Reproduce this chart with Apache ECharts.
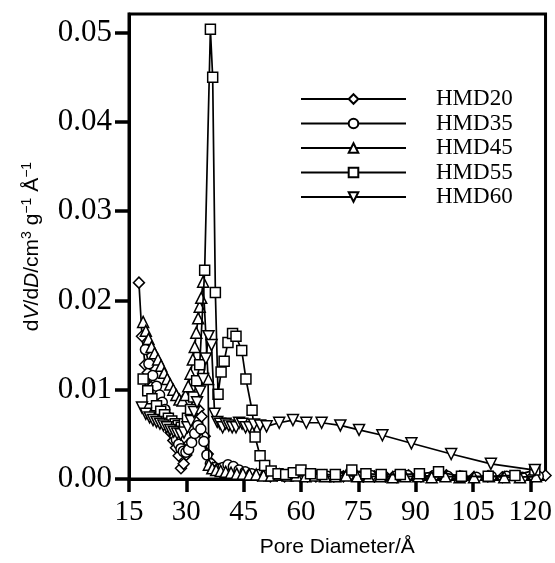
<!DOCTYPE html>
<html><head><meta charset="utf-8">
<script src="https://cdn.jsdelivr.net/npm/echarts@6/dist/echarts.min.js"></script>
<style>html,body{margin:0;padding:0;background:#fff}#c{width:555px;height:563px}</style>
</head><body><div id="c"></div>
<script>
const xTicks = [15, 30, 45, 60, 75, 90, 105, 120];
const yTicks = [0, 0.01, 0.02, 0.03, 0.04, 0.05];
const seriesNames = ['HMD20', 'HMD35', 'HMD45', 'HMD55', 'HMD60'];

const hmd20D = [17.6, 18.4, 19.2, 19.9, 20.8, 21.8, 22.7, 23.6, 24.4, 25.2, 25.9, 26.6, 27.3, 28.0, 28.6, 29.3, 30.0, 30.8, 31.6, 32.4, 33.2, 34.0, 34.8, 35.6, 36.5, 37.5, 38.6, 39.8, 41.1, 42.5, 44.0, 45.5, 47.0, 48.6, 50.3, 52.0, 53.8, 55.7, 57.6, 59.6, 61.7, 63.9, 66.2, 68.6, 71.1, 73.7, 76.4, 79.2, 82.1, 85.1, 88.2, 91.4, 94.7, 98.1, 101.6, 105.2, 108.9, 112.7, 116.6, 120.6, 124.0];
const hmd20V = [0.0220, 0.0160, 0.0128, 0.0119, 0.0103, 0.0089, 0.0080, 0.0072, 0.0066, 0.0061, 0.0052, 0.0043, 0.0035, 0.0026, 0.0012, 0.0017, 0.0027, 0.0040, 0.0055, 0.0068, 0.0078, 0.0070, 0.0048, 0.0028, 0.0018, 0.0013, 0.0011, 0.0010, 0.0009, 0.0007, 0.0006, 0.0005, 0.0005, 0.0004, 0.0004, 0.0003, 0.0004, 0.0003, 0.0004, 0.0005, 0.0003, 0.0003, 0.0004, 0.0003, 0.0003, 0.0004, 0.0003, 0.0003, 0.0003, 0.0002, 0.0004, 0.0003, 0.0003, 0.0004, 0.0003, 0.0002, 0.0003, 0.0002, 0.0003, 0.0003, 0.0004];

const hmd35D = [19.3, 20.2, 21.2, 22.2, 23.0, 23.7, 24.4, 25.0, 25.6, 26.2, 26.8, 27.4, 28.0, 28.6, 29.2, 29.9, 30.6, 31.4, 32.2, 33.0, 33.8, 34.6, 35.4, 36.3, 37.3, 38.4, 39.6, 40.9, 42.3, 43.8, 45.4, 47.1, 48.9, 50.8, 52.8, 54.9, 57.1, 59.4, 61.8, 64.3, 66.9, 69.6, 72.4, 75.3, 78.3, 81.4, 84.6, 87.9, 91.3, 94.8, 98.4, 102.1, 105.9, 109.8, 113.8, 117.9, 122.1];
const hmd35V = [0.0145, 0.0129, 0.0116, 0.0104, 0.0094, 0.0086, 0.0078, 0.0070, 0.0063, 0.0057, 0.0050, 0.0044, 0.0039, 0.0034, 0.0031, 0.0030, 0.0033, 0.0041, 0.0051, 0.0060, 0.0056, 0.0042, 0.0027, 0.0017, 0.0013, 0.0011, 0.0013, 0.0016, 0.0014, 0.0010, 0.0008, 0.0006, 0.0005, 0.0005, 0.0004, 0.0005, 0.0004, 0.0004, 0.0005, 0.0004, 0.0003, 0.0004, 0.0004, 0.0003, 0.0004, 0.0003, 0.0003, 0.0004, 0.0003, 0.0004, 0.0003, 0.0003, 0.0002, 0.0003, 0.0003, 0.0002, 0.0003];

const hmd45D = [18.7, 19.4, 20.1, 20.9, 21.7, 22.6, 23.4, 24.2, 25.0, 25.8, 26.6, 27.4, 28.2, 29.0, 29.8, 30.5, 31.1, 31.7, 32.2, 32.6, 33.1, 33.5, 33.9, 34.4, 35.7, 35.9, 36.8, 37.8, 39.0, 40.3, 41.7, 43.2, 44.8, 46.5, 48.3, 50.2, 52.2, 54.3, 56.5, 58.8, 61.2, 63.7, 66.3, 69.0, 71.8, 74.7, 77.7, 80.8, 84.0, 87.3, 90.7, 94.2, 97.8, 101.5, 105.3, 109.2, 113.2, 117.3, 121.5];
const hmd45V = [0.0176, 0.0166, 0.0157, 0.0148, 0.0141, 0.0134, 0.0127, 0.0119, 0.0112, 0.0106, 0.0100, 0.0094, 0.0089, 0.0088, 0.0094, 0.0104, 0.0118, 0.0134, 0.0148, 0.0164, 0.0180, 0.0193, 0.0203, 0.0221, 0.0112, 0.0016, 0.0012, 0.0010, 0.0009, 0.0008, 0.0007, 0.0006, 0.0006, 0.0005, 0.0005, 0.0004, 0.0004, 0.0005, 0.0004, 0.0004, 0.0003, 0.0004, 0.0003, 0.0003, 0.0004, 0.0003, 0.0003, 0.0003, 0.0002, 0.0003, 0.0003, 0.0002, 0.0003, 0.0002, 0.0002, 0.0003, 0.0002, 0.0002, 0.0003];

const hmd55D = [18.7, 19.9, 21.0, 22.2, 23.3, 24.3, 25.3, 26.2, 27.1, 27.9, 28.7, 29.5, 30.3, 31.1, 31.9, 32.7, 33.5, 34.8, 36.3, 36.9, 37.6, 38.3, 39.1, 39.9, 40.9, 42.1, 43.0, 44.5, 45.6, 47.2, 48.0, 49.3, 50.5, 52.2, 54.0, 56.0, 58.0, 60.0, 62.5, 65.5, 69.0, 73.3, 77.0, 81.0, 86.0, 91.0, 96.0, 102.0, 109.0, 116.0, 121.2];
const hmd55V = [0.0112, 0.0099, 0.0090, 0.0082, 0.0076, 0.0072, 0.0068, 0.0065, 0.0062, 0.0060, 0.0058, 0.0062, 0.0068, 0.0078, 0.0092, 0.0110, 0.0128, 0.0234, 0.0504, 0.0450, 0.0209, 0.0095, 0.0120, 0.0132, 0.0153, 0.0163, 0.0160, 0.0144, 0.0112, 0.0077, 0.0047, 0.0026, 0.0015, 0.0009, 0.0006, 0.0005, 0.0007, 0.0010, 0.0006, 0.0005, 0.0005, 0.0010, 0.0006, 0.0005, 0.0005, 0.0006, 0.0008, 0.0003, 0.0003, 0.0004, 0.0010];

const hmd60D = [18.4, 19.4, 20.4, 21.3, 22.2, 23.1, 24.0, 24.9, 25.8, 26.7, 27.6, 28.5, 29.4, 30.3, 31.2, 32.0, 32.8, 33.6, 34.4, 35.1, 35.8, 36.6, 37.4, 38.1, 38.8, 39.5, 40.3, 41.1, 42.0, 43.0, 43.8, 44.6, 45.5, 46.5, 47.7, 49.3, 51.0, 54.3, 57.9, 61.4, 65.4, 70.3, 75.2, 81.3, 88.9, 99.3, 109.7, 121.2];
const hmd60V = [0.0080, 0.0073, 0.0069, 0.0066, 0.0064, 0.0062, 0.0060, 0.0058, 0.0055, 0.0053, 0.0051, 0.0050, 0.0052, 0.0058, 0.0065, 0.0075, 0.0086, 0.0098, 0.0112, 0.0135, 0.0160, 0.0150, 0.0073, 0.0064, 0.0062, 0.0058, 0.0062, 0.0060, 0.0058, 0.0058, 0.0063, 0.0062, 0.0058, 0.0058, 0.0061, 0.0060, 0.0059, 0.0063, 0.0066, 0.0063, 0.0063, 0.0060, 0.0055, 0.0049, 0.0040, 0.0028, 0.0017, 0.0010];

const symbols = ['diamond', 'circle', 'triangle', 'rect', 'triangle'];
const rotations = [0, 0, 0, 0, 180];
const sizes = [11, 10, 11, 10, 11];
const allD = [hmd20D, hmd35D, hmd45D, hmd55D, hmd60D];
const allV = [hmd20V, hmd35V, hmd45V, hmd55V, hmd60V];

function zip(a, b) {
  const n = Math.min(a.length, b.length), out = [];
  for (let i = 0; i < n; i++) out.push([a[i], b[i]]);
  return out;
}

const SERIF = 'Liberation Serif';
const SANS = 'Liberation Sans';

const chart = echarts.init(document.getElementById('c'), null, {renderer: 'canvas'});
const series = seriesNames.map((name, i) => ({
  name: name,
  type: 'line',
  data: zip(allD[i], allV[i]),
  symbol: symbols[i],
  symbolSize: sizes[i],
  symbolRotate: rotations[i],
  showSymbol: true,
  showAllSymbol: true,
  clip: false,
  lineStyle: {color: '#000', width: 1.7},
  itemStyle: {color: '#fff', borderColor: '#000', borderWidth: 1.5},
  emphasis: {disabled: true},
  z: 2 + i
}));

chart.setOption({
  animation: false,
  backgroundColor: '#fff',
  grid: {left: 129, right: 7, top: 14, bottom: 81, show: true, borderColor: '#000', borderWidth: 3, backgroundColor: 'transparent'},
  legend: {
    orient: 'vertical', left: 295, top: 82,
    itemWidth: 105, itemHeight: 12, itemGap: 0.5,
    data: seriesNames,
    textStyle: {fontFamily: SERIF, fontSize: 23, color: '#000', lineHeight: 24, padding: [0, 0, 0, 25]}
  },
  xAxis: {
    type: 'value', min: 15, max: 124, interval: 15,
    name: 'Pore Diameter/Å', nameLocation: 'middle', nameGap: 58,
    nameTextStyle: {fontFamily: SANS, fontSize: 21, color: '#000'},
    axisLine: {show: true, onZero: false, lineStyle: {color: '#000', width: 3}},
    axisTick: {show: true, inside: false, length: 13, lineStyle: {color: '#000', width: 3.5}, customValues: xTicks},
    axisLabel: {fontFamily: SERIF, fontSize: 29, color: '#000', margin: 19, customValues: xTicks, formatter: v => String(v)},
    splitLine: {show: false}
  },
  yAxis: {
    type: 'value', min: 0, max: 0.0521, interval: 0.01,
    name: '{t|d}{i|V}{t|/d}{i|D}{t|/cm}{s|3}{t| g}{s|−1}{t| Å}{s|−1}',
    nameLocation: 'middle', nameGap: 84, nameRotate: 90,
    nameTextStyle: {
      color: '#000',
      rich: {
        t: {fontFamily: SANS, fontSize: 21, color: '#000'},
        i: {fontFamily: SANS, fontSize: 21, fontStyle: 'italic', color: '#000'},
        s: {fontFamily: SANS, fontSize: 14, color: '#000', padding: [0, 0, 11, 0]}
      }
    },
    axisLine: {show: true, onZero: false, lineStyle: {color: '#000', width: 3}},
    axisTick: {show: true, inside: false, length: 14, lineStyle: {color: '#000', width: 3.5}, customValues: yTicks},
    axisLabel: {fontFamily: SERIF, fontSize: 31, color: '#000', margin: 17, customValues: yTicks, formatter: v => v.toFixed(2)},
    splitLine: {show: false}
  },
  series: series
});
</script>
</body></html>
